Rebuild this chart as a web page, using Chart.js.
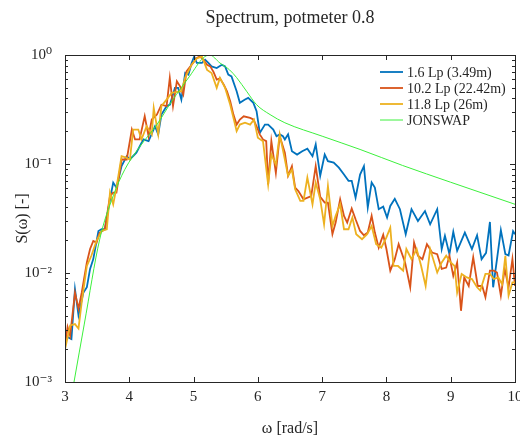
<!DOCTYPE html>
<html lang="en">
<head>
<meta charset="UTF-8">
<title>Spectrum, potmeter 0.8</title>
<script src="https://cdn.jsdelivr.net/npm/chart.js@4.4.1/dist/chart.umd.min.js"></script>
<style>
  body { margin: 0; background: #fff; }
  #wrap { width: 520px; height: 436px; }
</style>
</head>
<body>
<div id="wrap"><canvas id="spectrum"></canvas></div>
<script>
// series names and colours (MATLAB default order)
const chartTitle = 'Spectrum, potmeter 0.8';
const seriesNames = ['1.6 Lp (3.49m)', '10.2 Lp (22.42m)', '11.8 Lp (26m)', 'JONSWAP'];
const seriesColors = ['#0072bd', '#d95319', '#edb120', '#3cf03c'];

// 1.6 Lp  - omega [rad/s] and S(omega)
const w_lp16 = [3.00,3.10,3.155,3.21,3.285,3.34,3.39,3.44,3.52,3.57,3.62,3.70,3.75,3.80,3.88,3.96,4.01,4.11,4.22,4.30,
  4.40,4.45,4.50,4.58,4.633,4.71,4.76,4.81,4.87,4.92,4.97,5.01,5.05,5.13,5.18,5.23,5.28,5.36,5.44,5.49,
  5.54,5.59,5.67,5.72,5.80,5.85,5.93,5.98,6.03,6.11,6.16,6.24,6.29,6.34,6.39,6.42,6.47,6.53,6.61,6.69,
  6.77,6.85,6.90,6.97,7.04,7.09,7.18,7.26,7.34,7.41,7.46,7.52,7.59,7.65,7.71,7.77,7.82,7.88,7.95,8.01,
  8.06,8.13,8.21,8.30,8.39,8.49,8.60,8.68,8.79,8.86,8.91,8.98,9.04,9.10,9.22,9.33,9.41,9.48,9.55,9.61,
  9.66,9.72,9.78,9.85,9.90,9.97,10.0];
const s_lp16 = [0.00266,0.00248,0.0071,0.0041,0.0066,0.0074,0.0109,0.0134,0.0243,0.0252,0.0252,0.0474,0.0675,0.0607,0.0957,0.118,0.110,0.127,0.168,0.162,
  0.222,0.187,0.284,0.339,0.351,0.50,0.50,0.39,0.684,0.66,0.845,0.97,0.845,0.845,0.906,0.845,0.787,0.76,0.815,0.787,
  0.66,0.637,0.465,0.364,0.39,0.404,0.364,0.305,0.193,0.23,0.23,0.207,0.18,0.187,0.18,0.168,0.187,0.131,0.122,0.131,
  0.138,0.118,0.151,0.078,0.122,0.106,0.103,0.0925,0.080,0.070,0.070,0.049,0.080,0.0957,0.040,0.0675,0.0607,0.0385,0.0406,0.0323,
  0.0412,0.048,0.0385,0.0227,0.0385,0.030,0.037,0.028,0.0385,0.0166,0.0219,0.0149,0.0238,0.016,0.0235,0.0166,0.0222,0.0134,0.0153,0.0294,
  0.0074,0.0134,0.0247,0.0149,0.0145,0.0242,0.0227];

// 10.2 Lp
const w_lp102 = [3.00,3.04,3.08,3.155,3.21,3.26,3.34,3.39,3.44,3.49,3.54,3.62,3.70,3.75,3.80,3.88,3.96,4.04,4.09,4.16,
  4.24,4.30,4.35,4.43,4.50,4.58,4.63,4.68,4.74,4.79,4.84,4.89,4.97,5.05,5.10,5.15,5.21,5.26,5.31,5.36,
  5.41,5.47,5.52,5.57,5.62,5.67,5.72,5.78,5.88,5.93,5.98,6.03,6.08,6.13,6.16,6.21,6.28,6.34,6.42,6.47,
  6.53,6.58,6.63,6.71,6.83,6.90,6.97,7.04,7.09,7.16,7.21,7.28,7.34,7.39,7.46,7.52,7.59,7.65,7.71,7.77,
  7.82,7.88,7.95,8.00,8.06,8.13,8.19,8.29,8.37,8.43,8.49,8.56,8.63,8.71,8.79,8.86,8.93,8.98,9.04,9.10,
  9.16,9.21,9.28,9.35,9.42,9.49,9.54,9.61,9.67,9.72,9.78,9.84,9.90,9.96,10.0];
const s_lp102 = [0.00216,0.0032,0.00266,0.0066,0.0047,0.0066,0.0125,0.0166,0.0197,0.019,0.0234,0.0252,0.051,0.0546,0.0546,0.11,0.11,0.207,0.168,0.168,
  0.275,0.18,0.256,0.284,0.35,0.34,0.617,0.34,0.574,0.516,0.434,0.708,0.815,0.94,0.97,0.906,0.815,0.787,0.70,0.594,
  0.61,0.535,0.465,0.377,0.284,0.23,0.256,0.274,0.265,0.256,0.222,0.187,0.168,0.162,0.065,0.162,0.083,0.18,0.127,0.078,
  0.0957,0.0607,0.0565,0.0474,0.0508,0.0957,0.050,0.0442,0.0442,0.0227,0.029,0.0474,0.0334,0.029,0.039,0.0311,0.0243,0.0222,0.0235,0.0334,
  0.0235,0.0171,0.0224,0.0166,0.0105,0.0134,0.0184,0.0125,0.0074,0.019,0.0144,0.0134,0.0184,0.0154,0.0149,0.0109,0.0112,0.0144,0.0094,0.0125,
  0.0045,0.0091,0.0076,0.0139,0.0076,0.0076,0.006,0.0105,0.0105,0.0101,0.0062,0.0109,0.0074,0.0134,0.0076];

// 11.8 Lp
const w_lp118 = [3.00,3.08,3.155,3.21,3.26,3.34,3.41,3.49,3.57,3.65,3.70,3.75,3.80,3.88,3.94,4.01,4.06,4.14,4.19,4.27,
  4.35,4.38,4.45,4.50,4.58,4.66,4.81,4.87,4.97,5.05,5.13,5.21,5.28,5.36,5.41,5.49,5.57,5.62,5.67,5.72,
  5.80,5.88,5.94,6.00,6.08,6.16,6.21,6.28,6.34,6.42,6.47,6.53,6.58,6.66,6.71,6.77,6.85,6.90,6.97,7.03,
  7.09,7.16,7.21,7.28,7.34,7.41,7.47,7.53,7.62,7.70,7.77,7.84,7.92,8.00,8.06,8.11,8.18,8.26,8.31,8.39,
  8.47,8.54,8.61,8.68,8.79,8.86,8.93,9.00,9.06,9.10,9.17,9.25,9.33,9.41,9.46,9.54,9.61,9.67,9.74,9.80,
  9.85,9.90,9.96,10.0];
const s_lp118 = [0.0020,0.0033,0.0034,0.0031,0.0054,0.0116,0.0144,0.0197,0.0243,0.0252,0.0546,0.0427,0.0607,0.118,0.115,0.110,0.207,0.207,0.168,0.222,
  0.187,0.327,0.187,0.34,0.39,0.449,0.465,0.62,0.815,0.93,0.97,0.73,0.684,0.50,0.617,0.50,0.35,0.265,0.20,0.23,
  0.239,0.23,0.256,0.174,0.162,0.065,0.122,0.099,0.187,0.11,0.078,0.089,0.0586,0.0458,0.0458,0.075,0.0427,0.0675,0.0474,0.028,
  0.0628,0.027,0.0334,0.0427,0.0252,0.0252,0.0323,0.0227,0.0204,0.0227,0.027,0.0184,0.0171,0.0212,0.0261,0.0116,0.0116,0.0105,0.0166,0.0134,
  0.0166,0.0116,0.0076,0.0166,0.0101,0.0125,0.0144,0.0125,0.0116,0.0066,0.0098,0.0091,0.0088,0.0074,0.0069,0.0098,0.0098,0.0088,0.0091,0.0079,
  0.0144,0.0062,0.0082,0.0082];

// JONSWAP target spectrum
const w_jonswap = [3.14,3.30,3.54,3.75,3.93,4.17,4.43,4.66,4.94,5.15,5.25,5.41,5.56,5.67,5.83,5.98,6.19,6.42,7.00,7.59,8.25,9.00,10.0];
const s_jonswap = [0.001,0.0034,0.0204,0.051,0.089,0.146,0.23,0.376,0.64,0.94,1.0,0.845,0.73,0.62,0.46,0.35,0.284,0.239,0.18,0.136,0.097,0.068,0.0427];

// ticks
const xTickValues = [3, 4, 5, 6, 7, 8, 9, 10];
const yTickValues = [0.001, 0.01, 0.1, 1];
const yTickLabels = ['10⁻³', '10⁻²', '10⁻¹', '10⁰'];

const serif = '"Liberation Serif", "DejaVu Serif", serif';
const ink = '#262626';

function toPoints(xs, ys) {
  return xs.map((x, i) => ({x: x, y: ys[i]}));
}

// title over the axes, box, inward ticks and the legend inside the axes
const framePlugin = {
  id: 'frame',
  afterDatasetsDraw(chart) {
    const {ctx, chartArea: a, scales: {x, y}} = chart;
    ctx.save();
    ctx.strokeStyle = ink;
    ctx.lineWidth = 1;
    ctx.beginPath();
    xTickValues.forEach(v => {
      const px = Math.round(x.getPixelForValue(v)) + 0.5;
      ctx.moveTo(px, a.bottom); ctx.lineTo(px, a.bottom - 5);
      ctx.moveTo(px, a.top); ctx.lineTo(px, a.top + 5);
    });
    for (let k = -3; k < 0; k++) {
      for (let d = 1; d < 10; d++) {
        const py = Math.round(y.getPixelForValue(d * Math.pow(10, k))) + 0.5;
        const len = d === 1 ? 5 : 3;
        ctx.moveTo(a.left, py); ctx.lineTo(a.left + len, py);
        ctx.moveTo(a.right, py); ctx.lineTo(a.right - len, py);
      }
    }
    ctx.stroke();
    ctx.strokeRect(Math.round(a.left) + 0.5, Math.round(a.top) + 0.5,
                   Math.round(a.right - a.left), Math.round(a.bottom - a.top));

    // title, centred on the axes like MATLAB does
    ctx.fillStyle = ink;
    ctx.font = '18px ' + serif;
    ctx.textAlign = 'center';
    ctx.textBaseline = 'middle';
    ctx.fillText(chartTitle, (a.left + a.right) / 2, 18);

    // legend
    ctx.font = '14px ' + serif;
    ctx.textAlign = 'left';
    seriesNames.forEach((name, i) => {
      const ly = a.top + 17 + i * 16;
      ctx.strokeStyle = seriesColors[i];
      ctx.lineWidth = i === 3 ? 1 : 1.8;
      ctx.beginPath();
      ctx.moveTo(a.right - 135, ly);
      ctx.lineTo(a.right - 112, ly);
      ctx.stroke();
      ctx.fillStyle = ink;
      ctx.fillText(name, a.right - 108, ly + 1);
    });
    ctx.restore();
  }
};

const lineSet = (label, pts, color, order) => ({
  label: label, data: pts, borderColor: color, backgroundColor: color,
  borderWidth: 1.8, pointRadius: 0, fill: false, tension: 0, clip: 0, order: order
});

const jonswapSet = lineSet(seriesNames[3], toPoints(w_jonswap, s_jonswap), seriesColors[3], 0);
jonswapSet.borderWidth = 1;
jonswapSet.cubicInterpolationMode = 'monotone';

new Chart(document.getElementById('spectrum'), {
  type: 'line',
  data: {
    datasets: [
      lineSet(seriesNames[0], toPoints(w_lp16, s_lp16), seriesColors[0], 3),
      lineSet(seriesNames[1], toPoints(w_lp102, s_lp102), seriesColors[1], 2),
      lineSet(seriesNames[2], toPoints(w_lp118, s_lp118), seriesColors[2], 1),
      jonswapSet
    ]
  },
  options: {
    responsive: true,
    maintainAspectRatio: false,
    animation: false,
    layout: { padding: { left: 0, right: 5, top: 55, bottom: 0 } },
    plugins: {
      legend: { display: false },
      tooltip: { enabled: false },
      title: { display: false }
    },
    scales: {
      x: {
        type: 'linear',
        min: 3,
        max: 10,
        grid: { display: false },
        border: { display: false },
        afterBuildTicks: s => { s.ticks = xTickValues.map(v => ({value: v})); },
        ticks: { color: ink, font: { family: serif, size: 15 }, padding: -2, maxRotation: 0, autoSkip: false },
        title: { display: true, text: 'ω [rad/s]', color: ink, font: { family: serif, size: 16 }, padding: { top: 0, bottom: -2 } },
        afterFit: s => { s.height = 54; s.paddingLeft = 0; s.paddingRight = 0; }
      },
      y: {
        type: 'logarithmic',
        min: 0.001,
        max: 1,
        grid: { display: false },
        border: { display: false },
        afterBuildTicks: s => { s.ticks = yTickValues.map(v => ({value: v})); },
        ticks: {
          color: ink, font: { family: serif, size: 15 }, padding: 5, autoSkip: false,
          callback: v => yTickLabels[yTickValues.indexOf(v)]
        },
        title: { display: true, text: 'S(ω) [-]', color: ink, font: { family: serif, size: 16 }, padding: { top: 13, bottom: 0 } },
        afterFit: s => { s.width = 65; s.paddingTop = 0; s.paddingBottom = 0; }
      }
    }
  },
  plugins: [framePlugin]
});
</script>
</body>
</html>
